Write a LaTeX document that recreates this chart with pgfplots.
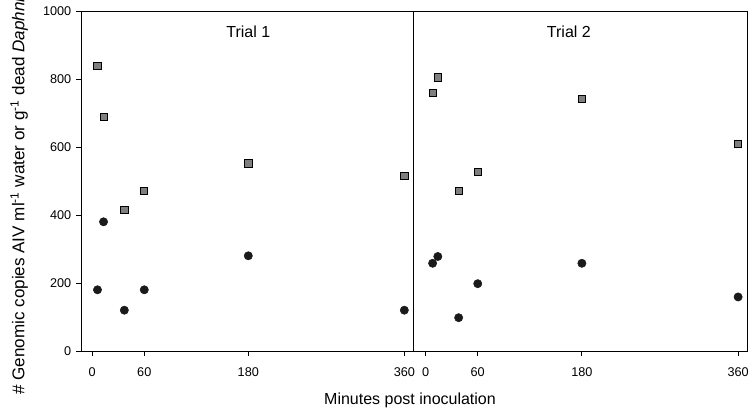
\documentclass[border=0pt]{standalone}
\usepackage{fontspec}
\setmainfont{Liberation Sans}
\usepackage{pgfplots}
\pgfplotsset{compat=1.18}
\definecolor{sqgray}{HTML}{7F7F7F}
\definecolor{dotblk}{HTML}{1A1A1A}
\begin{document}
\begin{tikzpicture}
\useasboundingbox (-60.75pt,-45pt) rectangle (501.75pt,263.25pt);
\pgfplotsset{
  panel/.style={
    scale only axis, height=255pt, ymin=0, ymax=1000,
    xtick={0,60,180,360}, ytick={0,200,...,1000},
    tick align=outside, major tick length=3.75pt,
    xtick pos=lower, ytick pos=left,
    axis line style={line width=0.6pt, black},
    tick style={line width=0.6pt, black},
    every tick label/.append style={font=\fontsize{9.5}{11}\selectfont},
    xticklabel style={yshift=-5pt},
    /pgf/number format/assume math mode=true,
    /pgf/number format/1000 sep={},
    clip=false,
  },
  sq/.style={only marks, mark=square*, mark size=2.7pt, mark options={fill=sqgray, draw=black, line width=0.6pt}},
  dot/.style={only marks, mark=*, mark size=3.1pt, mark options={fill=dotblk, draw=dotblk}},
}
\begin{axis}[panel, at={(0pt,0pt)}, anchor=south west, width=249pt, xmin=-13, xmax=370]
\addplot[sq] coordinates {(6,839) (13,688) (37,414) (60,471) (180,552) (360,516)};
\addplot[dot] coordinates {(6,180) (13,380) (37,120) (60,180) (180,280) (360,120)};
\node[font=\fontsize{12}{14}\selectfont] at (axis cs:180,940) {Trial 1};
\end{axis}
\begin{axis}[panel, at={(249pt,0pt)}, anchor=south west, width=251pt, xmin=-14.6, xmax=371, ymajorticks=false]
\addplot[sq] coordinates {(8,758) (14,805) (38,471) (60,527) (180,742) (360,610)};
\addplot[dot] coordinates {(8,258) (14,278) (38,98) (60,198) (180,258) (360,159)};
\node[font=\fontsize{12}{14}\selectfont] at (axis cs:165,940) {Trial 2};
\end{axis}
\node[font=\fontsize{12}{14}\selectfont] at (246.75pt,-36.75pt) {Minutes post inoculation};
\node[rotate=90, anchor=base west, inner sep=0pt, font=\fontsize{12.8}{14}\selectfont] at (-42.5pt,-33pt) {\# Genomic copies AIV ml\textsuperscript{-1} water or g\textsuperscript{-1} dead \textit{Daphnia}};
\end{tikzpicture}
\end{document}
